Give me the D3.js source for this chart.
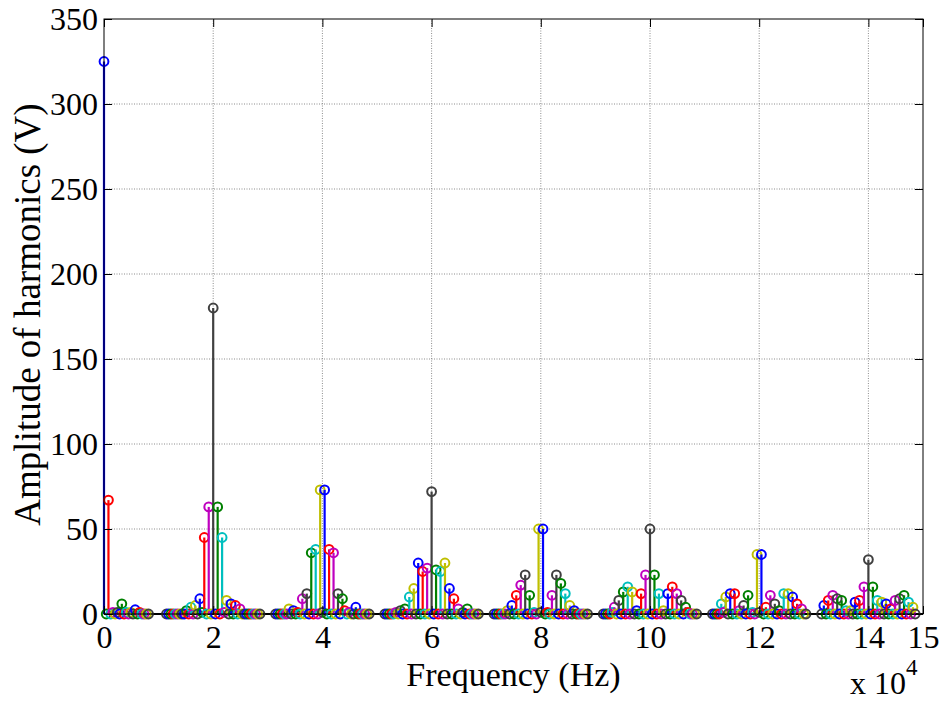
<!DOCTYPE html>
<html>
<head>
<meta charset="utf-8">
<script src="https://cdn.jsdelivr.net/npm/d3@7"></script>
<style>
  body { margin: 0; background: #fff; }
  text { font-family: "Liberation Serif", "Times New Roman", serif; fill: #000; }
</style>
</head>
<body>
<div id="chart"></div>
<script>
// harmonic spacing (Hz) and the carrier groups
const stepHz = 20000 / 49;
const groupCenters = [0, 20000, 40000, 60000, 80000, 100000, 120000, 140000];

// group 0 starts at the fundamental, k = 0..20
const group0 = [325, 0, 67, 0, 1, 0, 1, 0, 6, 0, 1, 0, 1, 0, 2.5, 0, 1, 0, 0, 0, 0];

// groups 1..7, k = -21..21 around the carrier
const group1 = [0, 0, 0, 0, 0, 0, 0, 0, 0, 2, 0, 4, 0, 5, 0, 9, 1, 45, 0, 63, 0, 180, 0, 63, 0, 45, 1, 8, 0, 6, 0, 5, 0, 3, 0, 0, 0, 0, 0, 0, 0, 0, 0];
const group2 = [0, 0, 0, 0, 0, 0, 3, 0, 2, 0, 1, 0, 9, 0, 12, 0, 36, 0, 38, 0, 73, 1, 73, 0, 38, 0, 36, 0, 12, 0, 9, 2, 0, 1, 0, 0, 4, 0, 0, 0, 0, 0, 0];
const group3 = [0, 0, 0, 0, 0, 1, 0, 2, 0, 3, 0, 10, 0, 15, 0, 30, 0, 25, 0, 27, 0, 72, 0, 26, 0, 25, 0, 30, 0, 15, 0, 9, 0, 3, 0, 1, 0, 3, 0, 0, 0, 0, 0];
const group4 = [0, 0, 0, 0, 0, 0, 2, 0, 5, 0, 11, 0, 17, 0, 23, 0, 11, 0, 1, 0, 50, 1, 50, 0, 1, 0, 11, 0, 23, 0, 18, 0, 12, 0, 5, 0, 2, 0, 0, 0, 0, 0, 0];
const group5 = [0, 0, 0, 0, 1, 4, 0, 8, 0, 13, 0, 16, 0, 13, 0, 2, 0, 12, 0, 23, 0, 50, 0, 23, 0, 12, 0, 2, 0, 12, 0, 16, 0, 12, 0, 8, 0, 4, 1, 0, 0, 0, 0];
const group6 = [0, 0, 0, 0, 6, 1, 10, 0, 12, 0, 12, 0, 2, 0, 5, 0, 11, 0, 1, 0, 35, 1, 35, 0, 4, 0, 11, 0, 6, 0, 2, 0, 12, 0, 12, 0, 10, 0, 6, 0, 3, 0, 0];
const group7 = [0, 5, 0, 8, 0, 11, 0, 9, 0, 8, 0, 2, 0, 2, 0, 7, 0, 8, 0, 16, 0, 32, 0, 16, 0, 8, 0, 7, 0, 6, 0, 3, 0, 8, 0, 9, 0, 11, 0, 7, 0, 4, 0];

const groups = [group0, group1, group2, group3, group4, group5, group6, group7];

const xTicks = [0, 20000, 40000, 60000, 80000, 100000, 120000, 140000, 150000];
const yTicks = [0, 50, 100, 150, 200, 250, 300, 350];

// old matlab colour order
const colorOrder = ['#0000ff', '#008000', '#ff0000', '#00bfbf', '#bf00bf', '#bfbf00', '#404040'];

const fontFam = '"Liberation Serif", "Times New Roman", serif';

const width = 942;
const height = 702;
const margin = { top: 19, right: 19, bottom: 88, left: 104 };

const svg = d3.select('#chart')
    .append('svg')
    .attr('width', width)
    .attr('height', height);

svg.append('rect')
    .attr('width', width)
    .attr('height', height)
    .attr('fill', '#fff');

const xScale = d3.scaleLinear()
    .domain([0, 150000])
    .range([margin.left, width - margin.right]);
const yScale = d3.scaleLinear()
    .domain([0, 350])
    .range([height - margin.bottom, margin.top]);

const x0 = xScale.range()[0], x1 = xScale.range()[1];
const y0 = yScale.range()[0], y1 = yScale.range()[1];

// dotted grid
const grid = svg.append('g').classed('grid', true)
    .attr('stroke', '#808080')
    .attr('stroke-width', 0.9)
    .attr('stroke-dasharray', '1,1.5');
grid.selectAll('.gx')
    .data(xTicks.slice(1, -1))
    .enter()
    .append('line')
    .attr('x1', d => xScale(d)).attr('x2', d => xScale(d))
    .attr('y1', y0).attr('y2', y1);
grid.selectAll('.gy')
    .data(yTicks.slice(1, -1))
    .enter()
    .append('line')
    .attr('x1', x0).attr('x2', x1)
    .attr('y1', d => yScale(d)).attr('y2', d => yScale(d));

// flatten groups into points
const points = [];
groups.forEach((arr, g) => {
    arr.forEach((v, i) => {
        const k = g === 0 ? i : i - 21;
        const c = g === 0 ? k % 7 : ((k + 6) % 7 + 7) % 7;
        points.push({ f: groupCenters[g] + k * stepHz, v: v, c: c });
    });
});

// stem baseline
svg.append('line')
    .attr('x1', x0).attr('x2', x1)
    .attr('y1', yScale(0)).attr('y2', yScale(0))
    .attr('stroke', '#000')
    .attr('stroke-width', 2);

const stems = svg.append('g').classed('stems', true);
const stem = stems.selectAll('.stem')
    .data(points)
    .enter()
    .append('g')
    .classed('stem', true);
stem.append('line')
    .attr('x1', d => xScale(d.f)).attr('x2', d => xScale(d.f))
    .attr('y1', yScale(0)).attr('y2', d => yScale(d.v))
    .attr('stroke', d => colorOrder[d.c])
    .attr('stroke-width', 2.2);
stem.append('circle')
    .attr('cx', d => xScale(d.f))
    .attr('cy', d => yScale(d.v))
    .attr('r', 4.4)
    .attr('fill', 'none')
    .attr('stroke', d => colorOrder[d.c])
    .attr('stroke-width', 2);

// axes, ticks pointing inwards
const xAxis = d3.axisBottom(xScale)
    .tickValues(xTicks)
    .tickFormat(d => d / 10000)
    .tickSize(-8)
    .tickSizeOuter(0)
    .tickPadding(11);
const yAxis = d3.axisLeft(yScale)
    .tickValues(yTicks)
    .tickSize(-8)
    .tickSizeOuter(0)
    .tickPadding(6);

const gx = svg.append('g')
    .classed('x axis', true)
    .attr('transform', `translate(0,${y0})`)
    .call(xAxis);
const gy = svg.append('g')
    .classed('y axis', true)
    .attr('transform', `translate(${x0},0)`)
    .call(yAxis);
[gx, gy].forEach(a => {
    a.select('.domain').remove();
    a.selectAll('line').attr('stroke', '#000').attr('stroke-width', 1);
    a.selectAll('text')
        .style('font-size', '32px')
        .style('font-family', fontFam)
        .attr('fill', '#000');
});

// ticks on top and right too
svg.append('g')
    .attr('transform', `translate(0,${y1})`)
    .call(d3.axisTop(xScale).tickValues(xTicks).tickSize(-8).tickSizeOuter(0).tickFormat(''))
    .call(a => a.select('.domain').remove());
svg.append('g')
    .attr('transform', `translate(${x1},0)`)
    .call(d3.axisRight(yScale).tickValues(yTicks).tickSize(-8).tickSizeOuter(0).tickFormat(''))
    .call(a => a.select('.domain').remove());

// box
svg.append('rect')
    .attr('x', x0).attr('y', y1)
    .attr('width', x1 - x0).attr('height', y0 - y1)
    .attr('fill', 'none')
    .attr('stroke', '#000')
    .attr('stroke-width', 1);

// labels
svg.append('text')
    .attr('x', (x0 + x1) / 2)
    .attr('y', 686)
    .style('font-size', '34px')
    .style('font-family', fontFam)
    .style('text-anchor', 'middle')
    .text('Frequency (Hz)');

svg.append('text')
    .attr('transform', `translate(40, ${(y0 + y1) / 2 - 2}) rotate(-90)`)
    .style('font-size', '37px')
    .style('font-family', fontFam)
    .style('text-anchor', 'middle')
    .text('Amplitude of harmonics (V)');

const expo = svg.append('text')
    .attr('x', 850)
    .attr('y', 694)
    .style('font-size', '32px')
    .style('font-family', fontFam);
expo.append('tspan').text('x 10');
expo.append('tspan')
    .attr('dy', -19)
    .style('font-size', '23px')
    .text('4');
</script>
</body>
</html>
